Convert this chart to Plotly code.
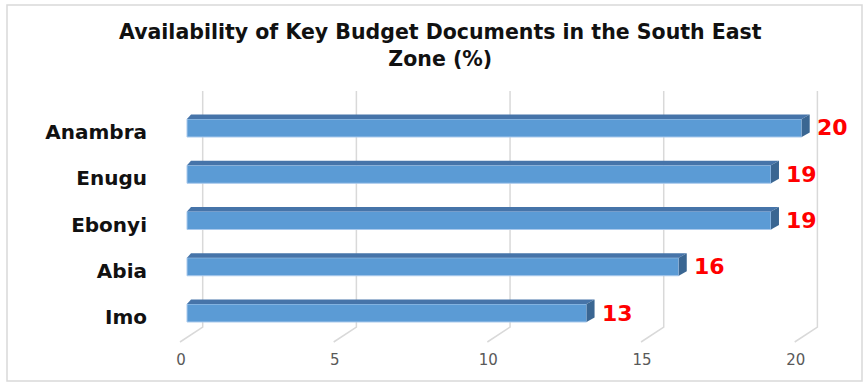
import plotly.graph_objects as go

# ---- data ----
states = ["Imo", "Abia", "Ebonyi", "Enugu", "Anambra"]
values = [13, 16, 19, 19, 20]
x_ticks = [0, 5, 10, 15, 20]
title_text = "Availability of Key Budget Documents in the South East<br>Zone (%)"

# ---- geometry / style ----
W, H = 863, 383
PX_X = 30.735      # px per value unit
PX_Y = 46.25       # px per category step
bar_w = 18 / PX_Y
dy = 4.5 / PX_Y
dx_left = 4 / PX_X
dx_right = 8 / PX_X
front_col = "#5B9BD5"
top_col = "#4674A9"
side_col = "#3A6692"
grid_col = "#D9D9D9"

ypos = list(range(len(states)))

fig = go.Figure()
fig.add_trace(go.Bar(
    x=values, y=ypos, orientation="h", width=bar_w,
    marker=dict(color=front_col, line=dict(color="#A9C9EC", width=1)),
    hoverinfo="skip",
))

shapes = []
# 3D gridlines (back plane + floor diagonal)
back_off = 15.7 / PX_X
front_off = -7 / PX_X
y_top = 4.8
y_back = -0.303
y_front = -0.627
for v in x_ticks:
    shapes.append(dict(
        type="path", xref="x", yref="y", layer="below",
        path=f"M {v+back_off} {y_top} L {v+back_off} {y_back} L {v+front_off} {y_front}",
        line=dict(color=grid_col, width=1.5),
    ))

# bar top and side faces
for v, y in zip(values, ypos):
    yt = y + bar_w / 2
    yb = y - bar_w / 2
    shapes.append(dict(
        type="path", xref="x", yref="y", layer="above",
        path=f"M 0 {yt} L {v} {yt} L {v+dx_right} {yt+dy} L {dx_left} {yt+dy} Z",
        fillcolor=top_col, line=dict(width=0),
    ))
    shapes.append(dict(
        type="path", xref="x", yref="y", layer="above",
        path=f"M {v} {yb} L {v} {yt} L {v+dx_right} {yt+dy} L {v+dx_right} {yb+dy} Z",
        fillcolor=side_col, line=dict(width=0),
    ))

# chart border
shapes.append(dict(
    type="rect", xref="paper", yref="paper",
    x0=7 / W, x1=862 / W, y0=1 - 381 / H, y1=1 - 5 / H,
    line=dict(color="#D9D9D9", width=1.5), fillcolor="rgba(0,0,0,0)", layer="below",
))

annotations = []
for v, y in zip(values, ypos):
    annotations.append(dict(
        x=v, y=y, xref="x", yref="y", text=str(v), showarrow=False,
        xanchor="left", yanchor="middle", xshift=13, yshift=0,
        font=dict(family="DejaVu Sans", size=22, color="#FF0000", weight="bold"),
    ))

# title as annotation
annotations.append(dict(
    x=440 / W, y=1 - 45.5 / H, xref="paper", yref="paper", text=title_text,
    showarrow=False, xanchor="center", yanchor="middle", align="center",
    font=dict(family="DejaVu Sans", size=20.5, color="#111111", weight="bold"),
))

x_lo = (160 - 187) / PX_X
x_hi = (863 - 187) / PX_X
y_lo = (313 - 343) / PX_Y
y_hi = (313 - 80) / PX_Y

fig.update_layout(
    width=W, height=H,
    margin=dict(l=0, r=0, t=0, b=0),
    paper_bgcolor="white", plot_bgcolor="white",
    showlegend=False,
    xaxis=dict(
        domain=[160 / W, 1], range=[x_lo, x_hi], tickvals=x_ticks,
        showgrid=False, zeroline=False, showline=False, ticks="",
        ticklabelshift=-6, ticklabelstandoff=6,
        tickfont=dict(family="DejaVu Sans", size=15, color="#595959"),
    ),
    yaxis=dict(
        domain=[1 - 343 / H, 1 - 80 / H], range=[y_lo, y_hi],
        tickvals=ypos, ticktext=states,
        showgrid=False, zeroline=False, showline=False, ticks="",
        ticklabelstandoff=12, ticklabelshift=4,
        tickfont=dict(family="DejaVu Sans", size=20, color="#111111", weight="bold"),
    ),
    shapes=shapes,
    annotations=annotations,
)

fig.write_html("out.html")
